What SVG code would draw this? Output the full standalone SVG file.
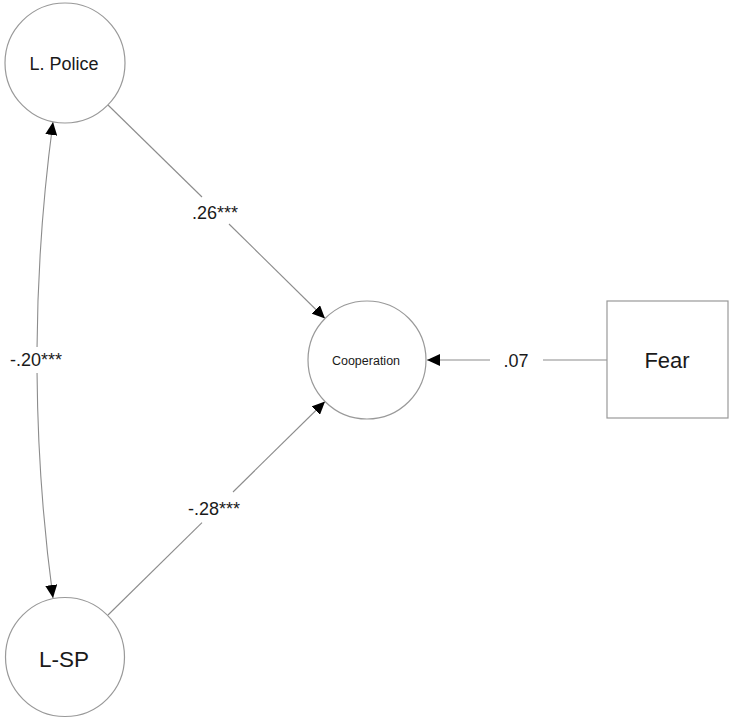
<svg xmlns="http://www.w3.org/2000/svg" width="732" height="720" viewBox="0 0 732 720">
<style>
  .node { fill: #ffffff; stroke: #999999; stroke-width: 1.2; }
  .edge { fill: none; stroke: #8c8c8c; stroke-width: 1.1; }
  text { font-family: "Liberation Sans", Arial, sans-serif; fill: #1a1a1a; text-anchor: middle; }
  .lbl { font-size: 18px; }
</style>
<defs>
  <marker id="arr" markerUnits="userSpaceOnUse" markerWidth="13" markerHeight="12" refX="13" refY="6" orient="auto-start-reverse">
    <path d="M0,0 L13,6 L0,12 z" fill="#000000"/>
  </marker>
</defs>
<rect width="732" height="720" fill="#ffffff"/>
<g id="connectors">
  <path class="edge" d="M108,105 L202,197"/>
  <path class="edge" d="M229,224 L325,318.5" marker-end="url(#arr)"/>
  <text class="lbl" x="215" y="219">.26***</text>
  <path class="edge" d="M108,615 L202,522.6"/>
  <path class="edge" d="M233,492 L325,401.5" marker-end="url(#arr)"/>
  <text class="lbl" x="214" y="515">-.28***</text>
  <path class="edge" d="M607,360 L543,360"/>
  <path class="edge" d="M490,360 L427,360" marker-end="url(#arr)"/>
  <text class="lbl" x="516" y="367">.07</text>
  <path class="edge" d="M53,122 Q37.87,234.5 37.05,347" marker-start="url(#arr)"/>
  <path class="edge" d="M37.05,373 Q37.87,485.5 53,598" marker-end="url(#arr)"/>
  <text class="lbl" x="36" y="366">-.20***</text>
</g>
<g id="node-lpolice">
  <circle class="node" cx="65" cy="63" r="60"/>
  <text x="64" y="70" font-size="18">L. Police</text>
</g>
<g id="node-lsp">
  <circle class="node" cx="65" cy="657" r="59.5"/>
  <text x="64" y="667" font-size="22.5">L-SP</text>
</g>
<g id="node-cooperation">
  <circle class="node" cx="367" cy="360" r="59"/>
  <text x="366" y="365" font-size="12.5">Cooperation</text>
</g>
<g id="node-fear">
  <rect class="node" x="607" y="301" width="121" height="117"/>
  <text x="667" y="368" font-size="22">Fear</text>
</g>
</svg>
